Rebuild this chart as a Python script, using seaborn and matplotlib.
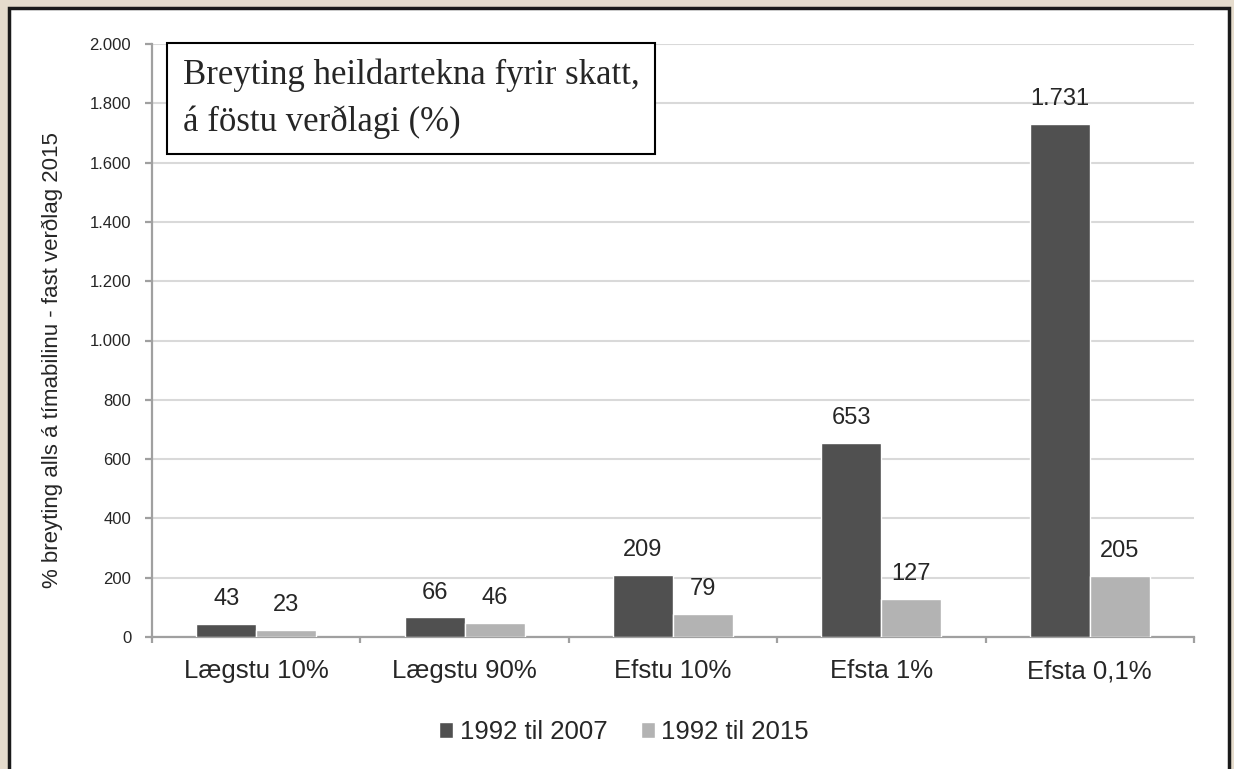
import numpy as np
import pandas as pd
import seaborn as sns
from matplotlib import pyplot as plt
from matplotlib.patches import Rectangle
from matplotlib.ticker import FuncFormatter, FixedLocator

# Gögn lesin af myndinni
hopar = ["Lægstu 10%", "Lægstu 90%", "Efstu 10%", "Efsta 1%", "Efsta 0,1%"]
timabil = ["1992 til 2007", "1992 til 2015"]
breyting_2007 = [43, 66, 209, 653, 1731]
breyting_2015 = [23, 46, 79, 127, 205]
y_ticks = [0, 200, 400, 600, 800, 1000, 1200, 1400, 1600, 1800, 2000]

df = pd.DataFrame({
    "Hopur": hopar * 2,
    "Timabil": [timabil[0]] * len(hopar) + [timabil[1]] * len(hopar),
    "Breyting": breyting_2007 + breyting_2015,
})


def punktar(x):
    # íslenskur þúsundaskilari
    return f"{int(x):,}".replace(",", ".")


sns.set_style("white")
plt.rcParams["font.family"] = ["Liberation Sans", "DejaVu Sans"]

W, H = 1234, 769
fig = plt.figure(figsize=(W / 100, H / 100), dpi=100, facecolor="#e5dccd")
# hvítur rammi utan um grafið (undir ásunum)
fig.patches.append(Rectangle((9 / W, -0.01), 1220 / W, 769 / H, transform=fig.transFigure,
                             facecolor="white", edgecolor="#1a1a1a", linewidth=2.5, zorder=-1))

ax = fig.add_axes([152 / W, 132 / H, 1042 / W, 593 / H])
ax.set_facecolor("none")

sns.barplot(data=df, x="Hopur", y="Breyting", hue="Timabil", order=hopar, hue_order=timabil,
            palette=["#505050", "#b3b3b3"], width=0.575, saturation=1, ax=ax, zorder=3)

for cont in ax.containers:
    ax.bar_label(cont, labels=[punktar(v) for v in cont.datavalues], padding=10, fontsize=17)

ax.set_ylim(0, 2000)
ax.set_xlim(-0.5, len(hopar) - 0.5)
ax.yaxis.set_major_locator(FixedLocator(y_ticks))
ax.yaxis.set_major_formatter(FuncFormatter(lambda v, p: punktar(v)))
ax.yaxis.grid(True, color="#d9d9d9", linewidth=1.5, zorder=0)
ax.set_axisbelow(True)

for s in ["top", "right"]:
    ax.spines[s].set_visible(False)
for s in ["left", "bottom"]:
    ax.spines[s].set_color("#a0a0a0")
    ax.spines[s].set_linewidth(1.6)

ax.tick_params(axis="y", left=True, length=5, width=1.6, color="#a0a0a0", labelsize=12, pad=10)
ax.tick_params(axis="x", which="major", length=0, labelsize=18.5, pad=16)
ax.xaxis.set_minor_locator(FixedLocator(np.arange(-0.5, len(hopar), 1.0)))
ax.tick_params(axis="x", which="minor", bottom=True, length=4.5, width=1.6, color="#a0a0a0")

ax.set_xlabel("")
ax.set_ylabel("% breyting alls á tímabilinu - fast verðlag 2015", fontsize=16)
ax.yaxis.set_label_coords(-0.0853, 0.467)

ax.legend(loc="center", bbox_to_anchor=(624 / W, 1 - 732 / H), bbox_transform=fig.transFigure,
          ncol=2, frameon=False, fontsize=18.5, handlelength=0.55, handleheight=0.55,
          handletextpad=0.25, columnspacing=1.3, borderpad=0)

ax.text(0.0297, 0.975, "Breyting heildartekna fyrir skatt,\ná föstu verðlagi (%)", transform=ax.transAxes,
        fontsize=25, family=["Liberation Serif", "DejaVu Serif"], va="top", ha="left", linespacing=1.5,
        bbox=dict(boxstyle="square,pad=0.45", facecolor="white", edgecolor="black", linewidth=1.5), zorder=5)

fig.savefig("out.png", dpi=100, facecolor=fig.get_facecolor())
